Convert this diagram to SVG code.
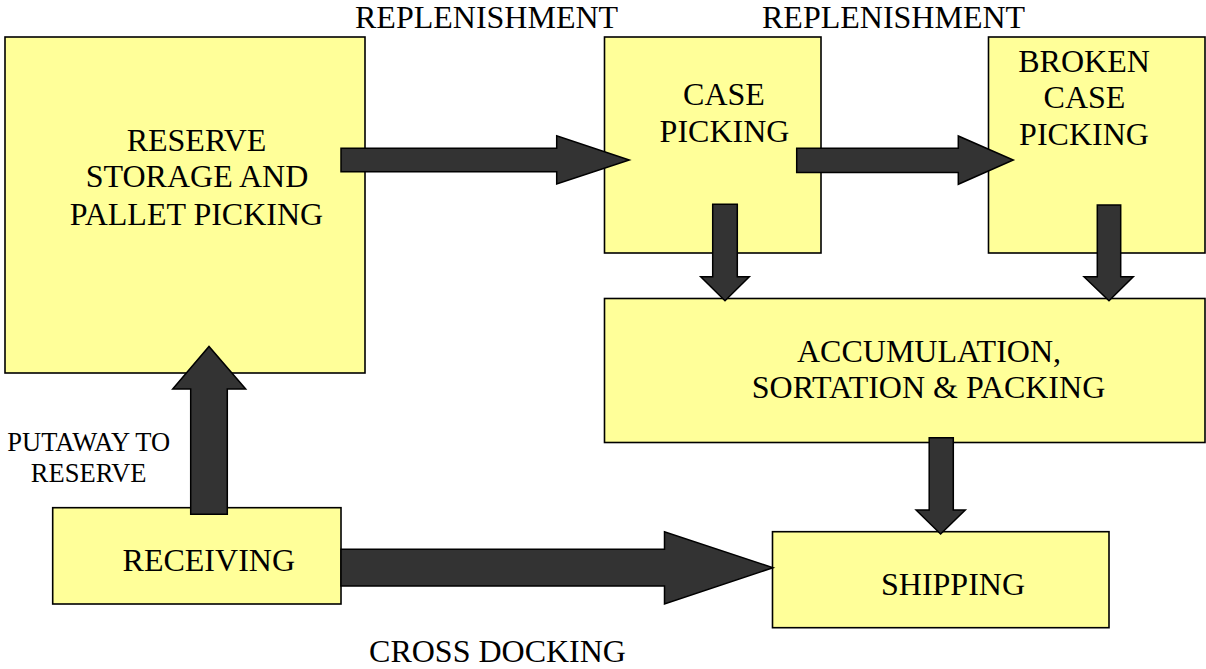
<svg xmlns="http://www.w3.org/2000/svg" width="1206" height="669" viewBox="0 0 1206 669" font-family="'Liberation Serif', 'DejaVu Serif', 'Times New Roman', serif">
<style>
  .box { fill: #FFFF99; stroke: #000; stroke-width: 1.6; }
  .arrow { fill: #333333; stroke: #000; stroke-width: 1.5; stroke-linejoin: miter; }
  text { font-family: "Liberation Serif", "DejaVu Serif", "Times New Roman", serif; font-size: 32px; fill: #000; }
  .small { font-size: 26.5px; }
</style>
<rect x="0" y="0" width="1206" height="669" fill="#fff"/>

<g id="reserve">
  <rect class="box" x="5" y="37" width="360" height="336"/>
  <text x="196.5" y="150.7" text-anchor="middle">RESERVE</text>
  <text x="197" y="187.3" text-anchor="middle">STORAGE AND</text>
  <text x="196.5" y="225" text-anchor="middle">PALLET PICKING</text>
</g>

<g id="case-picking">
  <rect class="box" x="604.5" y="37" width="216.5" height="216"/>
  <text x="724" y="105" text-anchor="middle">CASE</text>
  <text x="724.5" y="141.7" text-anchor="middle">PICKING</text>
</g>

<g id="broken-case-picking">
  <rect class="box" x="988.5" y="37" width="216.5" height="216"/>
  <text x="1084" y="71.7" text-anchor="middle">BROKEN</text>
  <text x="1084.5" y="108.3" text-anchor="middle">CASE</text>
  <text x="1084" y="145" text-anchor="middle">PICKING</text>
</g>

<g id="accumulation">
  <rect class="box" x="604.5" y="298.5" width="600.5" height="144"/>
  <text x="929" y="361.7" text-anchor="middle">ACCUMULATION,</text>
  <text x="928.5" y="398.3" text-anchor="middle">SORTATION &amp; PACKING</text>
</g>

<g id="shipping">
  <rect class="box" x="772.5" y="531.7" width="336.5" height="96"/>
  <text x="953" y="595" text-anchor="middle">SHIPPING</text>
</g>

<g id="receiving">
  <rect class="box" x="52.7" y="507.7" width="288.3" height="96.3"/>
  <text x="208.8" y="570.7" text-anchor="middle">RECEIVING</text>
</g>

<g id="connectors">
  <polygon class="arrow" points="341,148.3 556.7,148.3 556.7,135.7 629.3,160 556.7,184 556.7,171.7 341,171.7"/>
  <polygon class="arrow" points="796.7,148.3 958.3,148.3 958.3,136 1013.3,160 958.3,184.3 958.3,172.5 796.7,172.5"/>
  <polygon class="arrow" points="712.7,204.3 737.3,204.3 737.3,276.7 749.3,276.7 725,300.7 700.7,276.7 712.7,276.7"/>
  <polygon class="arrow" points="1097.3,205 1120.7,205 1120.7,276.7 1133.3,276.7 1109,300.7 1084,276.7 1097.3,276.7"/>
  <polygon class="arrow" points="929.2,437.7 953.3,437.7 953.3,510 965.3,510 940.6,534 916.1,510 929.2,510"/>
  <polygon class="arrow" points="190.7,514.3 190.7,389 172.7,389 209,346.5 245.7,389 227.3,389 227.3,514.3"/>
  <polygon class="arrow" points="341,549.3 664.5,549.3 664.5,531.7 773,567.7 664.5,604 664.5,586 341,586"/>
</g>

<g id="labels">
  <text x="355" y="28">REPLENISHMENT</text>
  <text x="762" y="28">REPLENISHMENT</text>
  <text class="small" x="88.7" y="450.7" text-anchor="middle">PUTAWAY TO</text>
  <text class="small" x="88.7" y="481.7" text-anchor="middle">RESERVE</text>
  <text x="497.5" y="662" text-anchor="middle">CROSS DOCKING</text>
</g>
</svg>
